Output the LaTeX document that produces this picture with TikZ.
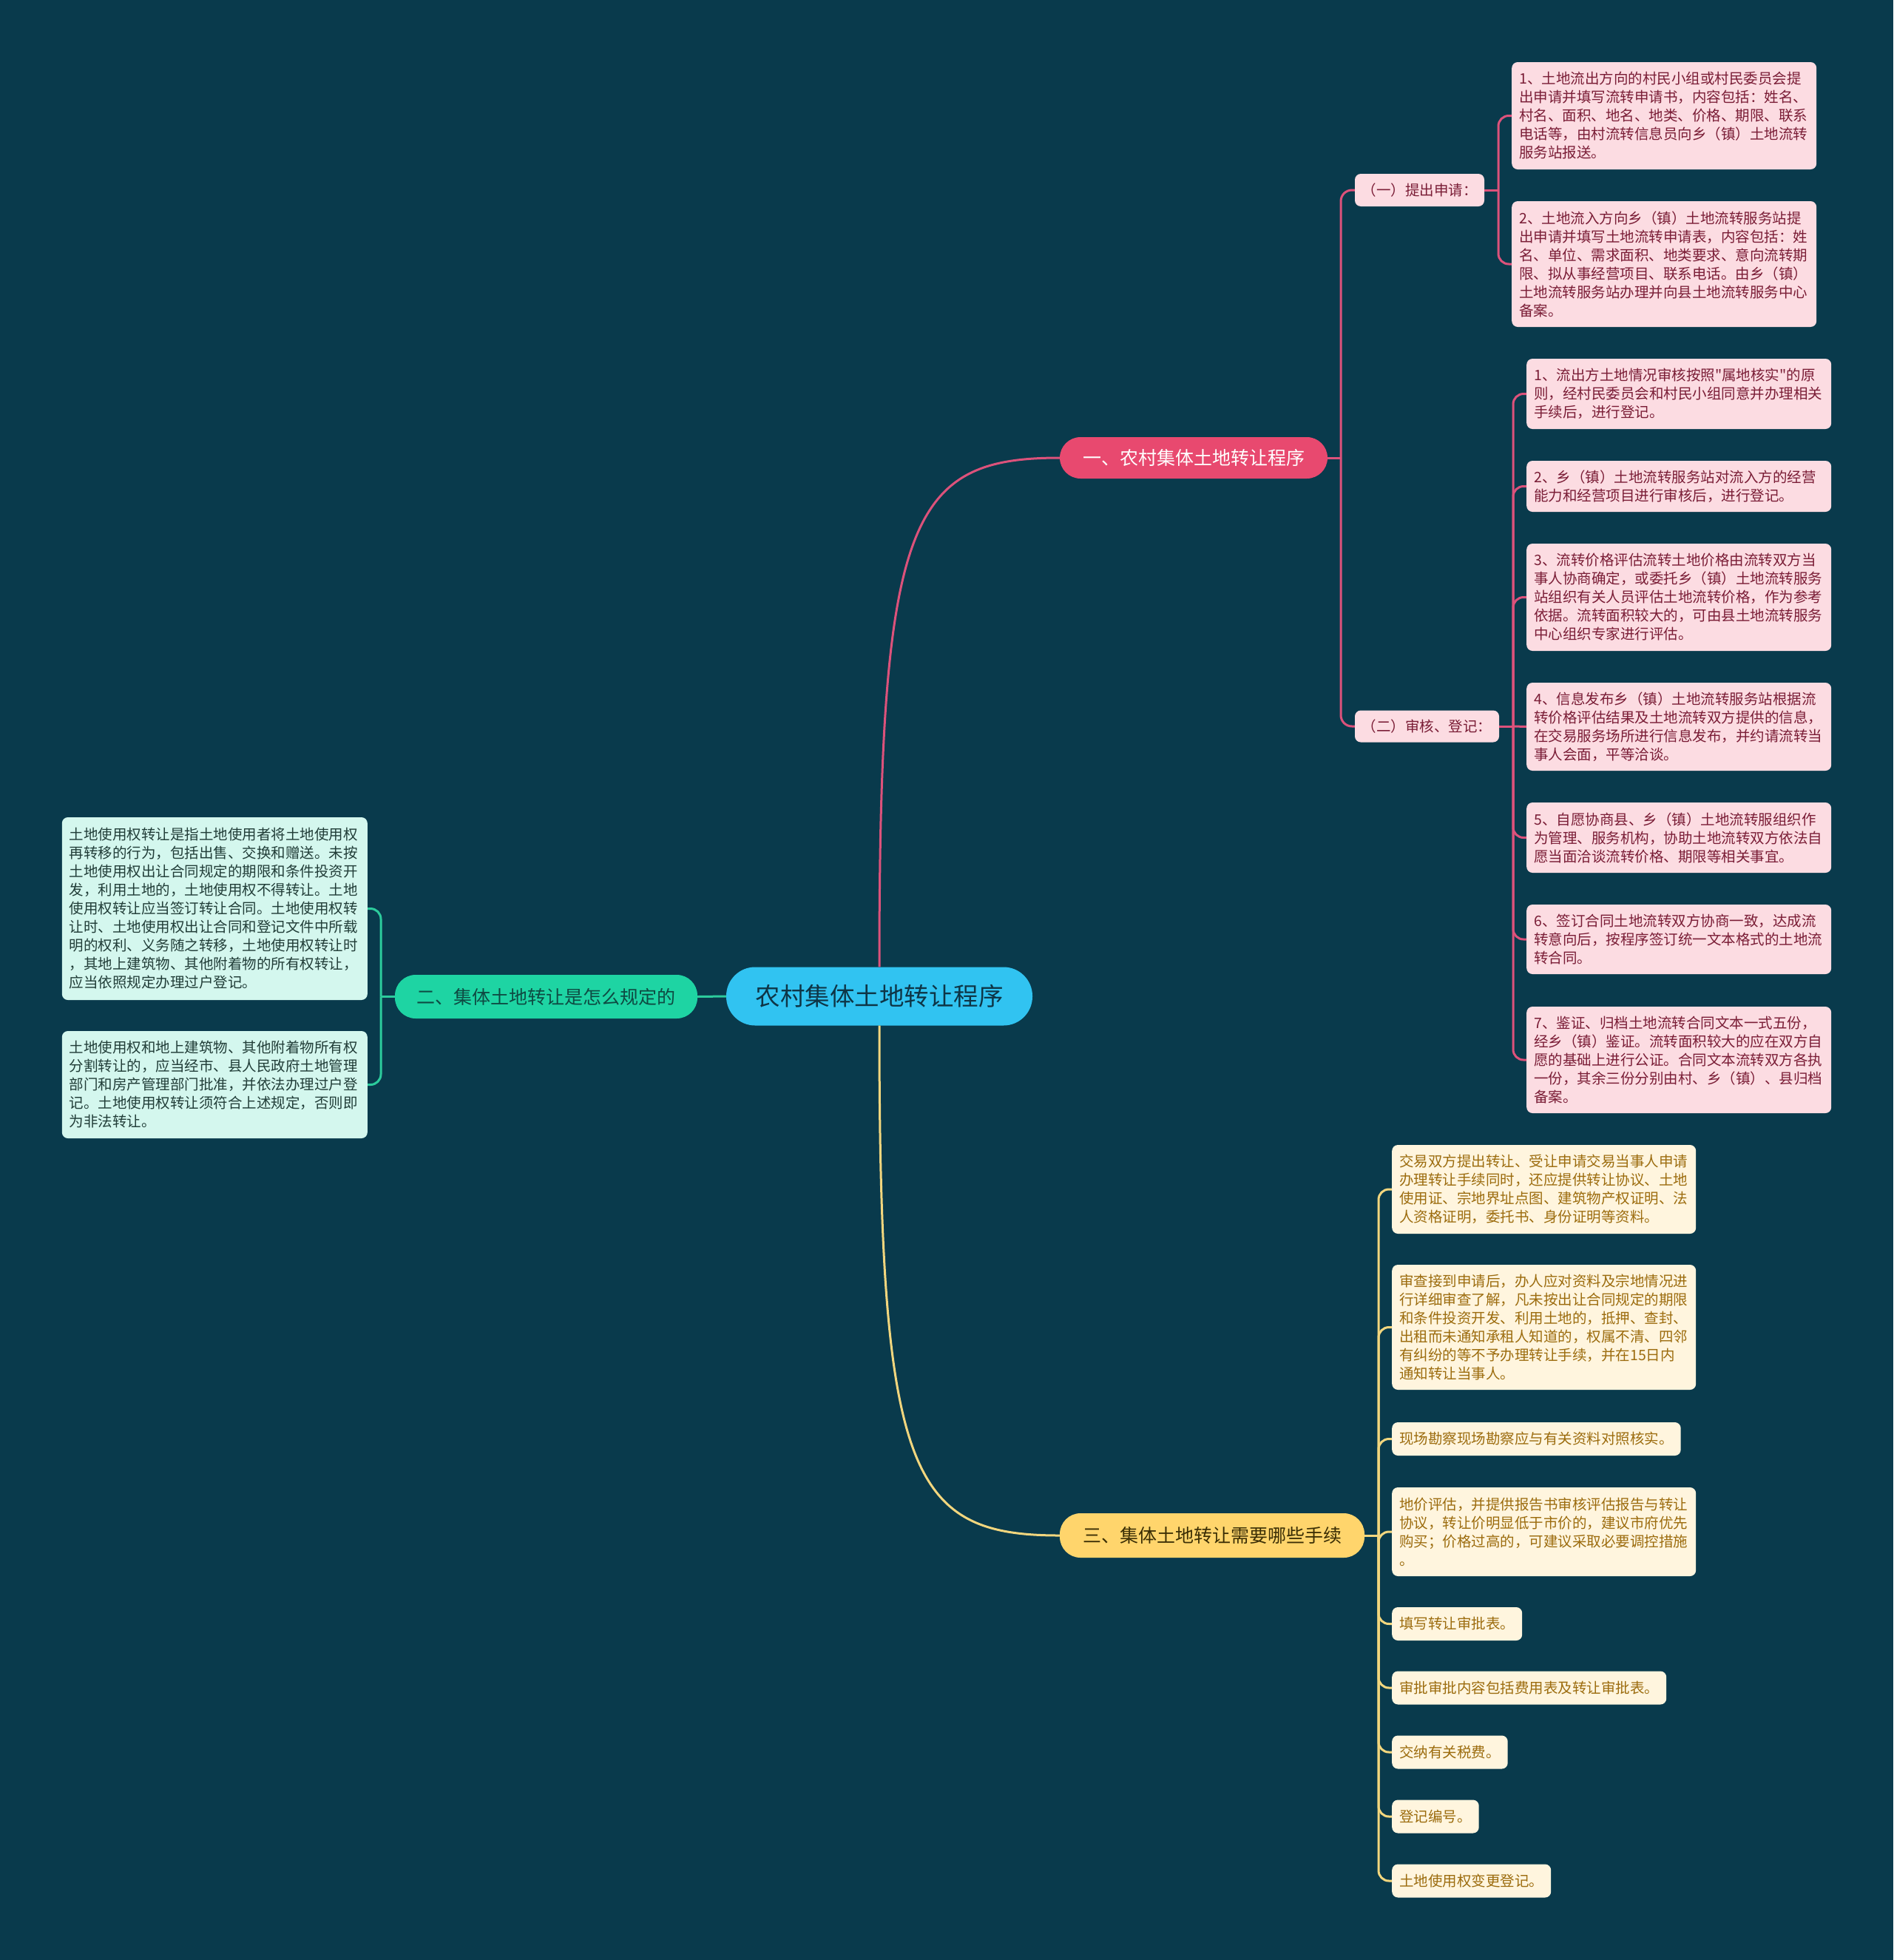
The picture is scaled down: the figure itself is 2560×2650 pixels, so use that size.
\documentclass[tikz,border=0pt]{standalone}
\usepackage{fontspec}
\setmainfont{Noto Sans CJK SC}[Ligatures=TeXOff]
\usetikzlibrary{calc}
\definecolor{bg}{HTML}{093A4C}
\definecolor{centerfill}{HTML}{31C3F1}
\definecolor{centertext}{HTML}{0E3546}
\definecolor{pinkbr}{HTML}{E8496F}
\definecolor{pinkline}{HTML}{DC527B}
\definecolor{pinkleaf}{HTML}{FCDCE2}
\definecolor{pinktext}{HTML}{7A1D36}
\definecolor{greenbr}{HTML}{1ED4A3}
\definecolor{greenline}{HTML}{2CCB9C}
\definecolor{greenleaf}{HTML}{D4F7EE}
\definecolor{greentext}{HTML}{213D38}
\definecolor{greenbrtext}{HTML}{0E4A42}
\definecolor{yellowbr}{HTML}{FFD56C}
\definecolor{yellowline}{HTML}{F2D67E}
\definecolor{yellowleaf}{HTML}{FFF5DE}
\definecolor{yellowtext}{HTML}{9C6C0E}
\definecolor{yellowbrtext}{HTML}{3A2E05}
\tikzset{
  leafbase/.style={rounded corners=8pt, anchor=west, align=left, inner xsep=10pt, inner ysep=0pt,
    font=\fontsize{19.5}{25}\selectfont},
  leafP/.style={leafbase, fill=pinkleaf, text=pinktext, text width=392pt},
  leafG/.style={leafbase, fill=greenleaf, text=greentext, text width=393pt},
  leafY/.style={leafbase, fill=yellowleaf, text=yellowtext, text width=391pt},
  leafYs/.style={leafbase, fill=yellowleaf, text=yellowtext, minimum height=45pt},
  subP/.style={rounded corners=8pt, fill=pinkleaf, text=pinktext, inner sep=0pt,
    font=\fontsize{19.5}{24}\selectfont},
  branch/.style={rounded corners=28pt, inner sep=0pt, font=\fontsize{25}{30}\selectfont},
  lineP/.style={draw=pinkline, line width=3pt},
  lineG/.style={draw=greenline, line width=3pt},
  lineY/.style={draw=yellowline, line width=3pt},
}
\begin{document}
\begin{tikzpicture}[x=1pt,y=-1pt]
\useasboundingbox (0,0) rectangle (2560,2650);
\fill[bg] (0,0) rectangle (2560,2650);

% center
\node[rounded corners=39pt, fill=centerfill, text=centertext, inner sep=0pt,
  minimum width=414pt, minimum height=79pt, font=\fontsize{33.5}{40}\selectfont]
  (c) at (1189,1347) {农村集体土地转让程序};

% branches
\node[branch, fill=pinkbr, text=white, minimum width=362pt, minimum height=56pt]
  (b1) at (1614,619) {一、农村集体土地转让程序};
\node[branch, fill=greenbr, text=greenbrtext, minimum width=409pt, minimum height=59pt]
  (b2) at (738.5,1347.5) {二、集体土地转让是怎么规定的};
\node[branch, fill=yellowbr, text=yellowbrtext, minimum width=412pt, minimum height=60pt]
  (b3) at (1639,2076) {三、集体土地转让需要哪些手续};

% sub nodes
\node[subP, minimum width=175pt, minimum height=44pt] (s1) at (1919.5,257) {（一）提出申请：};
\node[subP, minimum width=195pt, minimum height=43pt] (s2) at (1929.5,982) {（二）审核、登记：};

% pink leaves under s1
\node[leafP, minimum height=145pt] (p1) at (2044,156.5) {1、土地流出方向的村民小组或村民委员会提\\出申请并填写流转申请书，内容包括：姓名、\\村名、面积、地名、地类、价格、期限、联系\\电话等，由村流转信息员向乡（镇）土地流转\\服务站报送。};
\node[leafP, minimum height=170pt] (p2) at (2044,357) {2、土地流入方向乡（镇）土地流转服务站提\\出申请并填写土地流转申请表，内容包括：姓\\名、单位、需求面积、地类要求、意向流转期\\限、拟从事经营项目、联系电话。由乡（镇）\\土地流转服务站办理并向县土地流转服务中心\\备案。};

% pink leaves under s2
\node[leafP, minimum height=95pt] (q1) at (2064,532.5) {1、流出方土地情况审核按照"属地核实"的原\\则，经村民委员会和村民小组同意并办理相关\\手续后，进行登记。};
\node[leafP, minimum height=69pt] (q2) at (2064,657.5) {2、乡（镇）土地流转服务站对流入方的经营\\能力和经营项目进行审核后，进行登记。};
\node[leafP, minimum height=145pt] (q3) at (2064,807.5) {3、流转价格评估流转土地价格由流转双方当\\事人协商确定，或委托乡（镇）土地流转服务\\站组织有关人员评估土地流转价格，作为参考\\依据。流转面积较大的，可由县土地流转服务\\中心组织专家进行评估。};
\node[leafP, minimum height=119pt] (q4) at (2064,982.5) {4、信息发布乡（镇）土地流转服务站根据流\\转价格评估结果及土地流转双方提供的信息，\\在交易服务场所进行信息发布，并约请流转当\\事人会面，平等洽谈。};
\node[leafP, minimum height=95pt] (q5) at (2064,1132.5) {5、自愿协商县、乡（镇）土地流转服组织作\\为管理、服务机构，协助土地流转双方依法自\\愿当面洽谈流转价格、期限等相关事宜。};
\node[leafP, minimum height=94pt] (q6) at (2064,1270) {6、签订合同土地流转双方协商一致，达成流\\转意向后，按程序签订统一文本格式的土地流\\转合同。};
\node[leafP, minimum height=144pt] (q7) at (2064,1433) {7、鉴证、归档土地流转合同文本一式五份，\\经乡（镇）鉴证。流转面积较大的应在双方自\\愿的基础上进行公证。合同文本流转双方各执\\一份，其余三份分别由村、乡（镇）、县归档\\备案。};

% green leaves
\node[leafG, anchor=east, minimum height=247pt] (g1) at (497,1228.5) {土地使用权转让是指土地使用者将土地使用权\\再转移的行为，包括出售、交换和赠送。未按\\土地使用权出让合同规定的期限和条件投资开\\发，利用土地的，土地使用权不得转让。土地\\使用权转让应当签订转让合同。土地使用权转\\让时、土地使用权出让合同和登记文件中所载\\明的权利、义务随之转移，土地使用权转让时\\，其地上建筑物、其他附着物的所有权转让，\\应当依照规定办理过户登记。};
\node[leafG, anchor=east, minimum height=145pt] (g2) at (497,1466.5) {土地使用权和地上建筑物、其他附着物所有权\\分割转让的，应当经市、县人民政府土地管理\\部门和房产管理部门批准，并依法办理过户登\\记。土地使用权转让须符合上述规定，否则即\\为非法转让。};

% yellow leaves
\node[leafY, minimum height=120pt] (y1) at (1882,1608) {交易双方提出转让、受让申请交易当事人申请\\办理转让手续同时，还应提供转让协议、土地\\使用证、宗地界址点图、建筑物产权证明、法\\人资格证明，委托书、身份证明等资料。};
\node[leafY, minimum height=169pt] (y2) at (1882,1794.5) {审查接到申请后，办人应对资料及宗地情况进\\行详细审查了解，凡未按出让合同规定的期限\\和条件投资开发、利用土地的，抵押、查封、\\出租而未通知承租人知道的，权属不清、四邻\\有纠纷的等不予办理转让手续，并在15日内\\通知转让当事人。};
\node[leafYs] (y3) at (1882,1945.5) {现场勘察现场勘察应与有关资料对照核实。};
\node[leafY, minimum height=120pt] (y4) at (1882,2071) {地价评估，并提供报告书审核评估报告与转让\\协议，转让价明显低于市价的，建议市府优先\\购买；价格过高的，可建议采取必要调控措施\\。};
\node[leafYs] (y5) at (1882,2195.5) {填写转让审批表。};
\node[leafYs] (y6) at (1882,2282) {审批审批内容包括费用表及转让审批表。};
\node[leafYs] (y7) at (1882,2369) {交纳有关税费。};
\node[leafYs] (y8) at (1882,2456) {登记编号。};
\node[leafYs] (y9) at (1882,2543) {土地使用权变更登记。};

% main connectors
\draw[lineP] (c.north) .. controls (1189,700) and (1230,619) .. (b1.west);
\draw[lineG] (c.west) -- (b2.east);
\draw[lineY] (c.south) .. controls (1189,1994) and (1230,2076) .. (b3.west);

% branch 1 -> subs
\coordinate (f1) at (1813,619);
\draw[lineP] (b1.east) -- (f1);
\foreach \n in {s1,s2} \draw[lineP, rounded corners=15pt] (f1) -- (f1 |- \n.west) -- (\n.west);

% s1 -> leaves
\coordinate (fs1) at (2026,257);
\draw[lineP] (s1.east) -- (fs1);
\foreach \n in {p1,p2} \draw[lineP, rounded corners=14pt] (fs1) -- (fs1 |- \n.west) -- (\n.west);

% s2 -> leaves
\coordinate (fs2) at (2046,982);
\draw[lineP] (s2.east) -- (fs2);
\foreach \n in {q1,q2,q3,q5,q6,q7} \draw[lineP, rounded corners=14pt] (fs2) -- (fs2 |- \n.west) -- (\n.west);
\draw[lineP] (fs2) -- (q4.west);

% branch 2 -> leaves
\coordinate (fg) at (515,1347.5);
\draw[lineG] (b2.west) -- (fg);
\foreach \n in {g1,g2} \draw[lineG, rounded corners=14pt] (fg) -- (fg |- \n.east) -- (\n.east);

% branch 3 -> leaves
\coordinate (fy) at (1864,2076);
\draw[lineY] (b3.east) -- (fy);
\foreach \n in {y1,y2,y3,y4,y5,y6,y7,y8,y9} \draw[lineY, rounded corners=14pt] (fy) -- (fy |- \n.west) -- (\n.west);
\end{tikzpicture}
\end{document}
